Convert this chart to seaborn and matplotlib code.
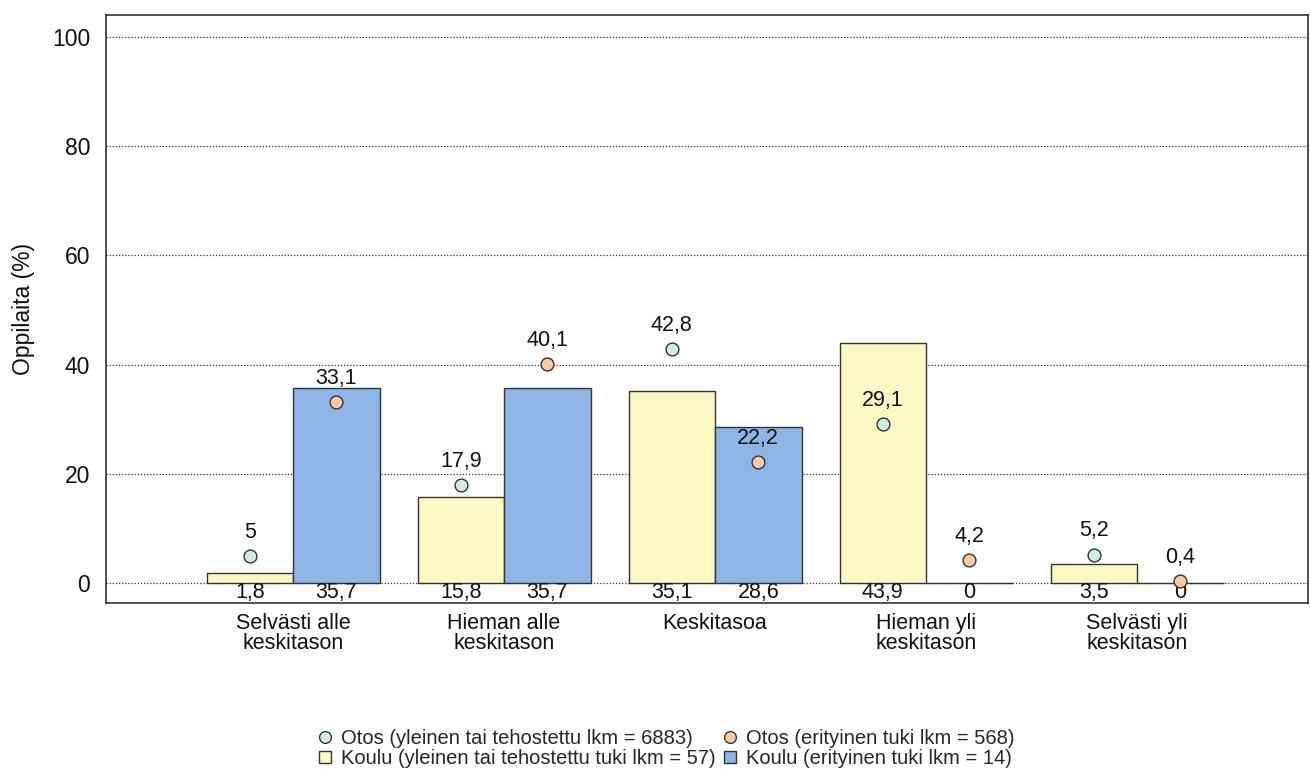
import pandas as pd
import seaborn as sns
import matplotlib.pyplot as plt
from matplotlib.lines import Line2D

# Data
tasot = ['Selvästi alle\nkeskitason', 'Hieman alle\nkeskitason', 'Keskitasoa',
         'Hieman yli\nkeskitason', 'Selvästi yli\nkeskitason']
koulu_yleinen = [1.8, 15.8, 35.1, 43.9, 3.5]
koulu_erityinen = [35.7, 35.7, 28.6, 0, 0]
otos_yleinen = [5, 17.9, 42.8, 29.1, 5.2]
otos_erityinen = [33.1, 40.1, 22.2, 4.2, 0.4]

lbl_otos_y = 'Otos (yleinen tai tehostettu lkm = 6883)'
lbl_otos_e = 'Otos (erityinen tuki lkm = 568)'
lbl_koulu_y = 'Koulu (yleinen tai tehostettu tuki lkm = 57)'
lbl_koulu_e = 'Koulu (erityinen tuki lkm = 14)'

def fmt(v):
    s = ('%.1f' % v).rstrip('0').rstrip('.')
    return s.replace('.', ',')

df = pd.DataFrame({
    'taso': tasot * 2,
    'osuus': koulu_yleinen + koulu_erityinen,
    'ryhma': [lbl_koulu_y] * 5 + [lbl_koulu_e] * 5,
})

keltainen = '#FBF8C4'
sininen = '#8FB5E6'
turkoosi = '#CFEDE6'
oranssi = '#F6CBA6'
reuna = '#333333'

sns.set_theme(style='white')
plt.rcParams['font.family'] = ['Liberation Sans', 'DejaVu Sans']

fig = plt.figure(figsize=(13.11, 7.69), dpi=100)
ax = fig.add_axes([0.0809, 0.2159, 0.9168, 0.7646])

sns.barplot(data=df, x='taso', y='osuus', hue='ryhma',
            palette=[keltainen, sininen], width=0.82, gap=0,
            edgecolor=reuna, linewidth=1, saturation=1,
            legend=False, ax=ax, zorder=2)

# bar centres from the drawn bars
kesk_y = [p.get_x() + p.get_width() / 2 for p in ax.containers[0]]
kesk_e = [p.get_x() + p.get_width() / 2 for p in ax.containers[1]]

for xs, vals in [(kesk_y, koulu_yleinen), (kesk_e, koulu_erityinen)]:
    for x, v in zip(xs, vals):
        ax.text(x, -1.75, fmt(v), ha='center', va='center', fontsize=15.5,
                color='#111111', zorder=4)

for xs, vals, col in [(kesk_y, otos_yleinen, turkoosi), (kesk_e, otos_erityinen, oranssi)]:
    ax.scatter(xs, vals, s=85, color=col, edgecolor=reuna, linewidth=1, zorder=5)
    for x, v in zip(xs, vals):
        ax.annotate(fmt(v), (x, v), xytext=(0, 17), textcoords='offset points',
                    ha='center', va='center', fontsize=15.5, color='#111111', zorder=5)

ax.set_ylim(-3.66, 104)
ax.set_xlim(-0.886, 4.81)
ax.set_yticks([0, 20, 40, 60, 80, 100])
ax.yaxis.grid(True, linestyle=(0, (1, 1.5)), color='#333333', linewidth=0.9)
ax.set_axisbelow(True)
for sp in ax.spines.values():
    sp.set_visible(True)
    sp.set_color('#222222')
    sp.set_linewidth(1.1)

ax.tick_params(axis='both', which='both', direction='out', length=6.5, width=1,
               color='#222222', labelsize=16.5, labelcolor='#111111')
ax.tick_params(axis='y', pad=5)
ax.tick_params(axis='x', pad=1)
for t in ax.get_xticklabels():
    t.set_linespacing(0.92)
    t.set_fontsize(15.5)
ax.set_xlabel('')
ax.set_ylabel('Oppilaita (%)', fontsize=16.5, color='#111111', labelpad=12)

kahvat = [
    Line2D([], [], marker='o', linestyle='', markersize=8.5, markerfacecolor=turkoosi,
           markeredgecolor=reuna, markeredgewidth=1),
    Line2D([], [], marker='s', linestyle='', markersize=8.5, markerfacecolor=keltainen,
           markeredgecolor=reuna, markeredgewidth=1),
    Line2D([], [], marker='o', linestyle='', markersize=8.5, markerfacecolor=oranssi,
           markeredgecolor=reuna, markeredgewidth=1),
    Line2D([], [], marker='s', linestyle='', markersize=8.5, markerfacecolor=sininen,
           markeredgecolor=reuna, markeredgewidth=1),
]
fig.legend(kahvat, [lbl_otos_y, lbl_koulu_y, lbl_otos_e, lbl_koulu_e], ncol=2,
           loc='center', bbox_to_anchor=(0.508, 0.027), frameon=False,
           fontsize=14.5, handlelength=0.8, handletextpad=0.4, columnspacing=0.3,
           labelspacing=0.05, borderpad=0)

fig.savefig('out.png', dpi=100)
